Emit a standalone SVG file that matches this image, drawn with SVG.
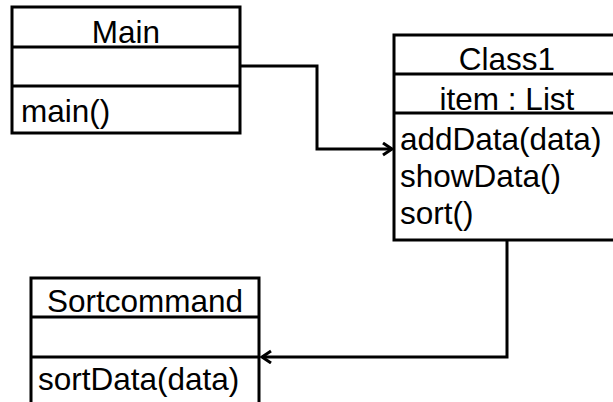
<svg xmlns="http://www.w3.org/2000/svg" width="613" height="402" viewBox="0 0 613 402">
  <style>
    .box { fill: #ffffff; stroke: #000000; stroke-width: 3; }
    .div { stroke: #000000; stroke-width: 3; }
    .t { font-family: "Liberation Sans", Arial, sans-serif; font-size: 31.5px; fill: #000000; }
    .c { text-anchor: middle; }
    .edge { fill: none; stroke: #000000; stroke-width: 3; }
  </style>
  <defs>
    <marker id="open" markerUnits="userSpaceOnUse" markerWidth="14" markerHeight="16" refX="10" refY="7" orient="auto">
      <path d="M1,1 L10,7 L1,13" fill="none" stroke="#000000" stroke-width="3"/>
    </marker>
  </defs>
  <rect width="613" height="402" fill="#ffffff"/>

  <g id="Main">
    <rect class="box" x="12" y="7" width="228" height="126"/>
    <line class="div" x1="12" y1="47" x2="240" y2="47"/>
    <line class="div" x1="12" y1="86" x2="240" y2="86"/>
    <text class="t c" x="126" y="43">Main</text>
    <text class="t" x="21" y="122">main()</text>
  </g>

  <g id="Class1">
    <rect class="box" x="394" y="35" width="230" height="205"/>
    <line class="div" x1="394" y1="74" x2="624" y2="74"/>
    <line class="div" x1="394" y1="113" x2="624" y2="113"/>
    <text class="t c" x="507" y="70">Class1</text>
    <text class="t c" x="507" y="110">item : List</text>
    <text class="t" x="400" y="150">addData(data)</text>
    <text class="t" x="400" y="187">showData()</text>
    <text class="t" x="400" y="224">sort()</text>
  </g>

  <g id="Sortcommand">
    <rect class="box" x="31" y="278" width="228" height="140"/>
    <line class="div" x1="31" y1="317" x2="259" y2="317"/>
    <line class="div" x1="31" y1="357" x2="259" y2="357"/>
    <text class="t c" x="145" y="312">Sortcommand</text>
    <text class="t" x="38" y="390">sortData(data)</text>
  </g>

  <g id="connectors">
    <polyline class="edge" points="240,66 317,66 317,149 392,149" marker-end="url(#open)"/>
    <polyline class="edge" points="507,240 507,357 262,357" marker-end="url(#open)"/>
  </g>
</svg>
